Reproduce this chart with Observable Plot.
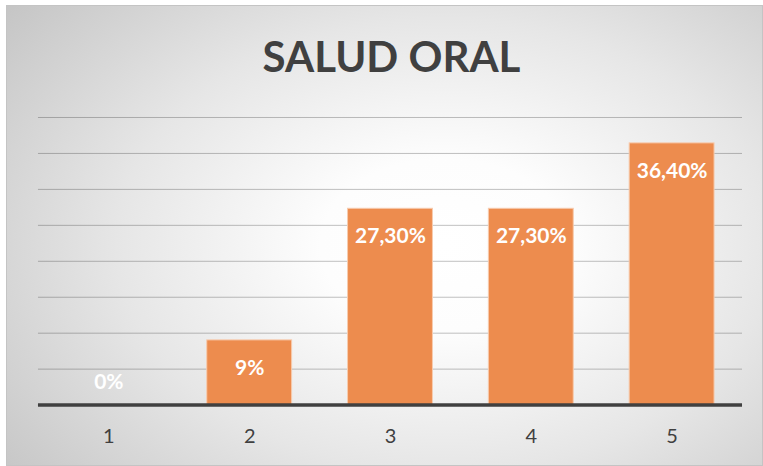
<!DOCTYPE html>
<html>
<head>
<meta charset="utf-8">
<script src="https://cdn.jsdelivr.net/npm/d3@7"></script>
<script src="https://cdn.jsdelivr.net/npm/@observablehq/plot@0.6"></script>
<style>
  html, body { margin: 0; padding: 0; background: #ffffff; }
  #chart {
    position: absolute; left: 6px; top: 5px; width: 757px; height: 461px;
    box-sizing: border-box; border: 1px solid #c4c4c4;
    background: radial-gradient(ellipse 75% 85% at 58% 52%, #ffffff 0%, #fdfdfd 22%, #e6e6e6 58%, #c4c4c4 100%);
    overflow: hidden;
  }
  #title {
    position: absolute; left: 32px; width: 705px; top: 29px;
    text-align: center; font-family: Lato, sans-serif; font-weight: bold;
    font-size: 42px; line-height: 1; color: #404040;
  }
  #plot { position: absolute; left: -1px; top: 94px; }
</style>
</head>
<body>
<div id="chart">
  <div id="title">SALUD ORAL</div>
  <div id="plot"></div>
</div>
<script>
const categories = ["1", "2", "3", "4", "5"];
const values = [0, 9, 27.3, 27.3, 36.4];
const labels = ["0%", "9%", "27,30%", "27,30%", "36,40%"];
const yTicks = [5, 10, 15, 20, 25, 30, 35, 40];

const data = categories.map((c, i) => ({cat: c, value: values[i], label: labels[i]}));

const chart = Plot.plot({
  width: 757,
  height: 361,
  marginLeft: 32,
  marginRight: 20,
  marginTop: 17,
  marginBottom: 56,
  style: {background: "transparent", fontFamily: "Lato, sans-serif", overflow: "visible"},
  x: {domain: categories, paddingInner: 0.4, paddingOuter: 0.2, label: null},
  y: {domain: [0, 40], axis: null},
  marks: [
    Plot.ruleY(yTicks, {stroke: "#000000", strokeOpacity: 0.25, strokeWidth: 1}),
    Plot.barY(data, {x: "cat", y: "value", fill: "#ED8C4E", stroke: "#F7CBAE", strokeWidth: 1}),
    Plot.ruleY([0], {stroke: "#404040", strokeWidth: 3.5}),
    Plot.text(data.filter(d => d.value > 0), {x: "cat", y: "value", text: "label", dy: 28, fill: "#ffffff", fontWeight: "bold", fontSize: 21}),
    Plot.text(data.filter(d => d.value === 0), {x: "cat", y: "value", text: "label", dy: -23, fill: "#ffffff", fontWeight: "bold", fontSize: 21}),
    Plot.axisX({tickSize: 0, tickPadding: 24, fontSize: 20, fill: "#404040", label: null})
  ]
});
document.getElementById("plot").appendChild(chart);
</script>
</body>
</html>
